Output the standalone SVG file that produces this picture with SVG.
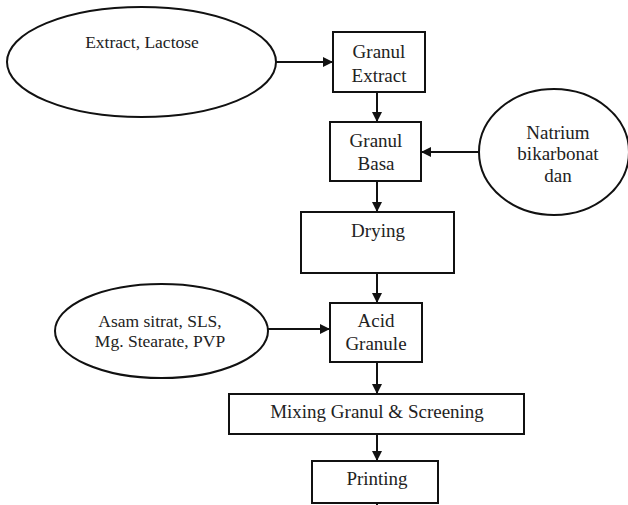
<svg xmlns="http://www.w3.org/2000/svg" width="628" height="505" viewBox="0 0 628 505">
<style>
.s{fill:#fff;stroke:#111;stroke-width:2}
.t{font-family:'Liberation Serif','Times New Roman',serif;font-size:19px;fill:#222;text-anchor:middle}
.ts{font-size:17.5px}
.c{stroke:#111;stroke-width:2;fill:none}
</style>
<defs>
<marker id="a" viewBox="0 0 10 10" refX="10" refY="5" markerWidth="5" markerHeight="5" orient="auto" markerUnits="strokeWidth">
<path d="M0,0L10,5L0,10z" fill="#111"/>
</marker>
</defs>
<rect width="628" height="505" fill="#fff"/>
<g id="connectors">
<line class="c" x1="276" y1="62" x2="333" y2="62" marker-end="url(#a)"/>
<line class="c" x1="377" y1="92" x2="377" y2="122" marker-end="url(#a)"/>
<line class="c" x1="479" y1="152" x2="421" y2="152" marker-end="url(#a)"/>
<line class="c" x1="377" y1="181" x2="377" y2="212" marker-end="url(#a)"/>
<line class="c" x1="377" y1="273" x2="377" y2="303" marker-end="url(#a)"/>
<line class="c" x1="268" y1="329" x2="330" y2="329" marker-end="url(#a)"/>
<line class="c" x1="377" y1="362" x2="377" y2="394" marker-end="url(#a)"/>
<line class="c" x1="377" y1="434" x2="377" y2="461" marker-end="url(#a)"/>
<line class="c" x1="377" y1="503" x2="377" y2="505"/>
</g>
<g id="extract-lactose">
<ellipse class="s" cx="141.5" cy="62" rx="134.5" ry="55"/>
<text class="t ts" x="142" y="48">Extract, Lactose</text>
</g>
<g id="granul-extract">
<rect class="s" x="333" y="32" width="92" height="60"/>
<text class="t" x="379" y="58">Granul</text>
<text class="t" x="379" y="82">Extract</text>
</g>
<g id="granul-basa">
<rect class="s" x="330" y="122" width="91" height="59"/>
<text class="t" x="376" y="147">Granul</text>
<text class="t" x="376" y="170">Basa</text>
</g>
<g id="natrium">
<ellipse class="s" cx="554" cy="152" rx="75" ry="63"/>
<text class="t" x="558" y="139">Natrium</text>
<text class="t" x="558" y="160">bikarbonat</text>
<text class="t" x="558" y="182">dan</text>
</g>
<g id="drying">
<rect class="s" x="301" y="212" width="153" height="61"/>
<text class="t" x="378" y="237">Drying</text>
</g>
<g id="asam">
<ellipse class="s" cx="161.5" cy="331" rx="106.5" ry="47"/>
<text class="t ts" x="160" y="327">Asam sitrat, SLS,</text>
<text class="t ts" x="160" y="347">Mg. Stearate, PVP</text>
</g>
<g id="acid-granule">
<rect class="s" x="330" y="303" width="92" height="59"/>
<text class="t" x="376" y="327">Acid</text>
<text class="t" x="376" y="350">Granule</text>
</g>
<g id="mixing">
<rect class="s" x="229" y="394" width="295" height="40"/>
<text class="t" x="377" y="418">Mixing Granul &amp; Screening</text>
</g>
<g id="printing">
<rect class="s" x="312" y="461" width="126" height="42"/>
<text class="t" x="377" y="485">Printing</text>
</g>
</svg>
